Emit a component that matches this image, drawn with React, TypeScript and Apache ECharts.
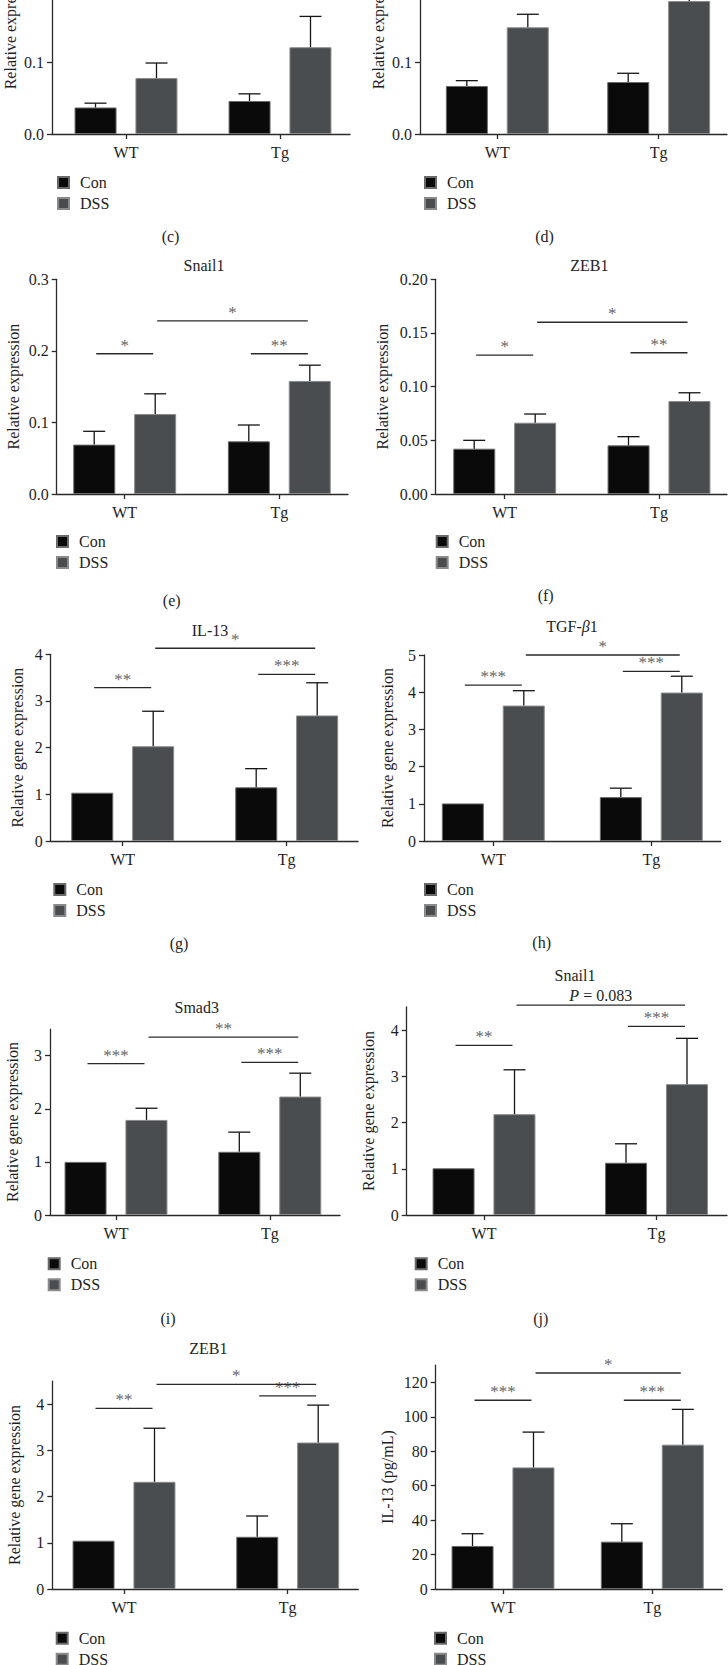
import React, { useEffect, useRef } from "react";
import * as echarts from "echarts";

// ---------- data ----------
const groups = ["WT", "Tg"];
const seriesNames = ["Con", "DSS"];

// (c)
const cCon = [0.037, 0.046];
const cConErr = [0.043, 0.056];
const cDss = [0.078, 0.121];
const cDssErr = [0.099, 0.164];
const cTicks = [0, 0.1, 0.2, 0.3];
const cLabels = [0, 0.1];

// (d)
const dCon = [0.067, 0.0725];
const dConErr = [0.0744, 0.0847];
const dDss = [0.1488, 0.1855];
const dDssErr = [0.167, 0.205];
const dTicks = [0, 0.1, 0.2, 0.3];
const dLabels = [0, 0.1];

// (e) Snail1
const eCon = [0.069, 0.0736];
const eConErr = [0.0876, 0.0964];
const eDss = [0.1117, 0.158];
const eDssErr = [0.14, 0.18];
const eTicks = [0, 0.1, 0.2, 0.3];
const eSigFrom = [0, 2, 1];
const eSigTo = [1, 3, 3];
const eSigY = [0.196, 0.196, 0.242];
const eSigText = ["*", "**", "*"];

// (f) ZEB1
const fCon = [0.0422, 0.0453];
const fConErr = [0.05, 0.0534];
const fDss = [0.0664, 0.0866];
const fDssErr = [0.0745, 0.0943];
const fTicks = [0, 0.05, 0.1, 0.15, 0.2];
const fSigFrom = [0, 2, 1];
const fSigTo = [1, 3, 3];
const fSigY = [0.1294, 0.1316, 0.16];
const fSigText = ["*", "**", "*"];

// (g) IL-13
const gCon = [1.035, 1.15];
const gConErr = [null, 1.55];
const gDss = [2.03, 2.69];
const gDssErr = [2.78, 3.39];
const gTicks = [0, 1, 2, 3, 4];
const gSigFrom = [0, 2, 1];
const gSigTo = [1, 3, 3];
const gSigY = [3.285, 3.57, 4.13];
const gSigText = ["**", "***", "*"];

// (h) TGF-β1
const hCon = [1.01, 1.18];
const hConErr = [null, 1.42];
const hDss = [3.64, 3.99];
const hDssErr = [4.04, 4.43];
const hTicks = [0, 1, 2, 3, 4, 5];
const hSigFrom = [0, 2, 1];
const hSigTo = [1, 3, 3];
const hSigY = [4.19, 4.56, 5.0];
const hSigText = ["***", "***", "*"];

// (i) Smad3
const iCon = [1.0, 1.19];
const iConErr = [null, 1.56];
const iDss = [1.79, 2.23];
const iDssErr = [2.01, 2.67];
const iTicks = [0, 1, 2, 3];
const iSigFrom = [0, 2, 1];
const iSigTo = [1, 3, 3];
const iSigY = [2.85, 2.875, 3.35];
const iSigText = ["***", "***", "**"];

// (j) Snail1
const jCon = [1.01, 1.13];
const jConErr = [null, 1.54];
const jDss = [2.18, 2.83];
const jDssErr = [3.14, 3.82];
const jTicks = [0, 1, 2, 3, 4];
const jSigFrom = [0, 2, 1];
const jSigTo = [1, 3, 3];
const jSigY = [3.67, 4.08, 4.54];
const jSigText = ["**", "***", "{i|P} = 0.083"];

// (k) ZEB1
const kCon = [1.045, 1.13];
const kConErr = [null, 1.58];
const kDss = [2.32, 3.17];
const kDssErr = [3.48, 3.98];
const kTicks = [0, 1, 2, 3, 4];
const kSigFrom = [0, 2, 1];
const kSigTo = [1, 3, 3];
const kSigY = [3.91, 4.18, 4.43];
const kSigText = ["**", "***", "*"];

// (l) IL-13 pg/mL
const lCon = [25.0, 27.5];
const lConErr = [32.1, 37.9];
const lDss = [70.6, 83.8];
const lDssErr = [91.1, 104.3];
const lTicks = [0, 20, 40, 60, 80, 100, 120];
const lSigFrom = [0, 2, 1];
const lSigTo = [1, 3, 3];
const lSigY = [109.6, 109.6, 125.4];
const lSigText = ["***", "***", "*"];

// ---------- layout / style ----------
const FONT = '"Liberation Serif", "DejaVu Serif", serif';
const OFF = 100;
const EXTRA = 40;
const W = 728;
const H = 1665;
const BAR_W = 42;
const BAR_OFF = 30.5;
const TEXT = "#1e1e1e";
const AXIS = "#2a2a2a";
const CON_COLOR = "#0a0a0a";
const DSS_COLOR = "#4a4d50";

type Panel = {
  L: number; R: number; t1: number; t2: number; base: number; top: number; max: number;
  ticks: number[]; labels: number[]; dec: number; yName: string; nameGap: number;
  legend: [number, number];
  con: (number | null)[]; conErr: (number | null)[]; dss: number[]; dssErr: (number | null)[];
  sig?: { from: number[]; to: number[]; y: number[]; text: string[] };
};

const panels: Panel[] = [
  { L: 52, R: 350, t1: 126, t2: 280, base: 134, top: -81.1, max: 0.3, ticks: cTicks, labels: cLabels, dec: 1,
    yName: "Relative expression", nameGap: 34, legend: [57, 174.5], con: cCon, conErr: cConErr, dss: cDss, dssErr: cDssErr },
  { L: 420, R: 727, t1: 497.3, t2: 658.7, base: 134, top: -81.1, max: 0.3, ticks: dTicks, labels: dLabels, dec: 1,
    yName: "Relative expression", nameGap: 34, legend: [424, 174.5], con: dCon, conErr: dConErr, dss: dDss, dssErr: dDssErr },
  { L: 56.7, R: 348, t1: 124.7, t2: 279.3, base: 494, top: 279.3, max: 0.3, ticks: eTicks, labels: eTicks, dec: 1,
    yName: "Relative expression", nameGap: 35, legend: [56, 533.5], con: eCon, conErr: eConErr, dss: eDss, dssErr: eDssErr,
    sig: { from: eSigFrom, to: eSigTo, y: eSigY, text: eSigText } },
  { L: 435.7, R: 727, t1: 504.7, t2: 659, base: 494, top: 279.3, max: 0.2, ticks: fTicks, labels: fTicks, dec: 2,
    yName: "Relative expression", nameGap: 45, legend: [435.7, 533.5], con: fCon, conErr: fConErr, dss: fDss, dssErr: fDssErr,
    sig: { from: fSigFrom, to: fSigTo, y: fSigY, text: fSigText } },
  { L: 50.7, R: 358, t1: 122.7, t2: 286.7, base: 841, top: 654.3, max: 4, ticks: gTicks, labels: gTicks, dec: 0,
    yName: "Relative gene expression", nameGap: 25, legend: [53.3, 881.5], con: gCon, conErr: gConErr, dss: gDss, dssErr: gDssErr,
    sig: { from: gSigFrom, to: gSigTo, y: gSigY, text: gSigText } },
  { L: 424, R: 720.7, t1: 493.3, t2: 651.3, base: 841, top: 655, max: 5, ticks: hTicks, labels: hTicks, dec: 0,
    yName: "Relative gene expression", nameGap: 28.5, legend: [424, 881.5], con: hCon, conErr: hConErr, dss: hDss, dssErr: hDssErr,
    sig: { from: hSigFrom, to: hSigTo, y: hSigY, text: hSigText } },
  { L: 50, R: 340, t1: 116, t2: 269.8, base: 1215, top: 1029.1, max: 3.5, ticks: iTicks, labels: iTicks, dec: 0,
    yName: "Relative gene expression", nameGap: 30, legend: [47.7, 1255.8], con: iCon, conErr: iConErr, dss: iDss, dssErr: iDssErr,
    sig: { from: iSigFrom, to: iSigTo, y: iSigY, text: iSigText } },
  { L: 406.7, R: 727, t1: 484, t2: 656.5, base: 1215, top: 1006.9, max: 4.5, ticks: jTicks, labels: jTicks, dec: 0,
    yName: "Relative gene expression", nameGap: 30.7, legend: [414.7, 1255.8], con: jCon, conErr: jConErr, dss: jDss, dssErr: jDssErr,
    sig: { from: jSigFrom, to: jSigTo, y: jSigY, text: jSigText } },
  { L: 52.3, R: 358.3, t1: 124, t2: 287.7, base: 1589, top: 1381.1, max: 4.5, ticks: kTicks, labels: kTicks, dec: 0,
    yName: "Relative gene expression", nameGap: 30, legend: [55.7, 1630.2], con: kCon, conErr: kConErr, dss: kDss, dssErr: kDssErr,
    sig: { from: kSigFrom, to: kSigTo, y: kSigY, text: kSigText } },
  { L: 435.7, R: 722.3, t1: 503, t2: 652.3, base: 1589, top: 1365.1, max: 130, ticks: lTicks, labels: lTicks, dec: 0,
    yName: "IL-13 (pg/mL)", nameGap: 40, legend: [434, 1630.2], con: lCon, conErr: lConErr, dss: lDss, dssErr: lDssErr,
    sig: { from: lSigFrom, to: lSigTo, y: lSigY, text: lSigText } },
];

const titles: { text: string; x: number; y: number }[] = [
  { text: "Snail1", x: 204, y: 265 },
  { text: "ZEB1", x: 589.4, y: 265 },
  { text: "IL-13", x: 210, y: 630.3 },
  { text: "{n|TGF-}{i|β}{n|1}", x: 572, y: 626.7 },
  { text: "Smad3", x: 196.7, y: 1007.3 },
  { text: "Snail1", x: 575, y: 975 },
  { text: "ZEB1", x: 208.3, y: 1348.3 },
];

const captions: { text: string; x: number; y: number }[] = [
  { text: "(c)", x: 170.5, y: 236 },
  { text: "(d)", x: 544.5, y: 236 },
  { text: "(e)", x: 171.7, y: 600 },
  { text: "(f)", x: 545.7, y: 595 },
  { text: "(g)", x: 179, y: 943 },
  { text: "(h)", x: 541.7, y: 942 },
  { text: "(i)", x: 168, y: 1318 },
  { text: "(j)", x: 540.7, y: 1318 },
];

const richStyles = {
  n: { fontFamily: FONT, fontSize: 16, fill: TEXT, color: TEXT },
  i: { fontFamily: FONT, fontSize: 16, fontStyle: "italic", fill: TEXT, color: TEXT },
};

const catOf = (b: number) => (b < 2 ? 1 : 2);
const sideOf = (b: number) => (b % 2 ? 1 : -1);

function buildOption() {
  const grid: any[] = [];
  const xAxis: any[] = [];
  const yAxis: any[] = [];
  const series: any[] = [];
  const legend: any[] = [];

  panels.forEach((p, gi) => {
    const unit = p.t2 - p.t1;
    const xmin = 1 - (p.t1 - p.L) / unit;
    const xmax = 2 + (p.R - p.t2) / unit;
    grid.push({
      left: p.L,
      top: p.top + OFF,
      width: p.R - p.L,
      height: p.base - p.top,
      containLabel: false,
      outerBoundsMode: "none",
    });
    xAxis.push({
      gridIndex: gi,
      type: "value",
      min: xmin,
      max: xmax,
      axisLine: { show: true, onZero: false, lineStyle: { color: AXIS, width: 1.3 } },
      axisTick: { show: true, customValues: [1, 2], length: 5, lineStyle: { color: AXIS, width: 1.3 } },
      axisLabel: {
        show: true,
        customValues: [1, 2],
        formatter: (v: number) => (Math.abs(v - 1) < 1e-6 ? groups[0] : Math.abs(v - 2) < 1e-6 ? groups[1] : ""),
        margin: 10,
        fontFamily: FONT,
        fontSize: 16,
        color: TEXT,
      },
      splitLine: { show: false },
    });
    yAxis.push({
      gridIndex: gi,
      type: "value",
      min: 0,
      max: p.max,
      axisLine: { show: true, onZero: false, lineStyle: { color: AXIS, width: 1.3 } },
      axisTick: { show: true, customValues: p.ticks, length: 5, lineStyle: { color: AXIS, width: 1.3 } },
      axisLabel: {
        show: true,
        customValues: p.labels,
        formatter: (v: number) => v.toFixed(p.dec),
        margin: 8,
        fontFamily: FONT,
        fontSize: 16,
        color: TEXT,
      },
      splitLine: { show: false },
      name: p.yName,
      nameLocation: "middle",
      nameGap: p.nameGap,
      nameTextStyle: { fontFamily: FONT, fontSize: 16, color: TEXT },
    });

    series.push({
      type: "bar",
      name: seriesNames[0],
      xAxisIndex: gi,
      yAxisIndex: gi,
      barWidth: BAR_W,
      barGap: "45%",
      data: [[1, p.con[0]], [2, p.con[1]]],
      itemStyle: { color: CON_COLOR, borderColor: "#6a6a6a", borderWidth: 1 },
    });
    series.push({
      type: "bar",
      name: seriesNames[1],
      xAxisIndex: gi,
      yAxisIndex: gi,
      barWidth: BAR_W,
      barGap: "45%",
      data: [[1, p.dss[0]], [2, p.dss[1]]],
      itemStyle: { color: DSS_COLOR, borderColor: "#8a8a8a", borderWidth: 1 },
    });

    const errData = [
      [1, p.con[0], p.conErr[0] ?? NaN, -1],
      [2, p.con[1], p.conErr[1] ?? NaN, -1],
      [1, p.dss[0], p.dssErr[0] ?? NaN, 1],
      [2, p.dss[1], p.dssErr[1] ?? NaN, 1],
    ];
    series.push({
      type: "custom",
      xAxisIndex: gi,
      yAxisIndex: gi,
      z: 3,
      silent: true,
      data: errData,
      renderItem: (params: any, api: any) => {
        const x = api.value(0);
        const v = api.value(1);
        const e = api.value(2);
        const side = api.value(3);
        if (!(e > v)) return null;
        const p1 = api.coord([x, v]);
        const p2 = api.coord([x, e]);
        const cx = p1[0] + side * BAR_OFF;
        const ls = { stroke: "#151515", lineWidth: 1.3 };
        return {
          type: "group",
          children: [
            { type: "line", shape: { x1: cx, y1: p1[1], x2: cx, y2: p2[1] }, style: ls },
            { type: "line", shape: { x1: cx - 11, y1: p2[1], x2: cx + 11, y2: p2[1] }, style: ls },
          ],
        };
      },
    });

    if (p.sig) {
      const sg = p.sig;
      const sigData = sg.y.map((yv, k) => [catOf(sg.from[k]), catOf(sg.to[k]), yv, sideOf(sg.from[k]), sideOf(sg.to[k])]);
      series.push({
        type: "custom",
        xAxisIndex: gi,
        yAxisIndex: gi,
        z: 4,
        silent: true,
        data: sigData,
        renderItem: (params: any, api: any) => {
          const k = params.dataIndex;
          const a = api.coord([api.value(0), api.value(2)]);
          const b = api.coord([api.value(1), api.value(2)]);
          const xa = a[0] + api.value(3) * BAR_OFF + 2;
          const xb = b[0] + api.value(4) * BAR_OFF - 2;
          const label = sg.text[k];
          const isStar = label.indexOf("*") >= 0;
          return {
            type: "group",
            children: [
              { type: "line", shape: { x1: xa, y1: a[1], x2: xb, y2: a[1] }, style: { stroke: "#2a2a2a", lineWidth: 1.3 } },
              {
                type: "text",
                x: (xa + xb) / 2,
                y: a[1] - (isStar ? 0 : 2),
                style: {
                  text: label,
                  fill: isStar ? "#666" : TEXT,
                  fontFamily: FONT,
                  fontSize: isStar ? 17 : 16,
                  align: "center",
                  verticalAlign: "bottom",
                  textAlign: "center",
                  textVerticalAlign: "bottom",
                  rich: richStyles,
                },
              },
            ],
          };
        },
      });
    }

    legend.push({
      data: seriesNames,
      orient: "vertical",
      left: p.legend[0],
      top: p.legend[1] + OFF,
      height: 60,
      itemWidth: 11,
      itemHeight: 11,
      itemGap: 5,
      padding: 0,
      icon: "rect",
      selectedMode: false,
      textStyle: { fontFamily: FONT, fontSize: 16, color: TEXT, lineHeight: 16, padding: [0, 0, 0, 6] },
    });
  });

  const elements: any[] = [];
  titles.forEach((t) => {
    elements.push({
      type: "text",
      x: t.x,
      y: t.y + OFF,
      style: {
        text: t.text,
        fill: TEXT,
        fontFamily: FONT,
        fontSize: 16,
        textAlign: "center",
        textVerticalAlign: "middle",
        align: "center",
        verticalAlign: "middle",
        rich: richStyles,
      },
    });
  });
  captions.forEach((t) => {
    elements.push({
      type: "text",
      x: t.x,
      y: t.y + OFF,
      style: {
        text: t.text,
        fill: TEXT,
        fontFamily: FONT,
        fontSize: 16,
        textAlign: "center",
        textVerticalAlign: "middle",
        align: "center",
        verticalAlign: "middle",
      },
    });
  });

  return {
    animation: false,
    backgroundColor: "#ffffff",
    textStyle: { fontFamily: FONT },
    grid,
    xAxis,
    yAxis,
    legend,
    series,
    graphic: { elements },
  };
}

export default function App() {
  const ref = useRef<HTMLDivElement>(null);
  useEffect(() => {
    if (!ref.current) return;
    const chart = echarts.init(ref.current, null, { renderer: "svg" });
    chart.setOption(buildOption() as any);
    return () => chart.dispose();
  }, []);
  return (
    <div
      style={{
        position: "absolute",
        left: 0,
        top: 0,
        width: W,
        height: H,
        overflow: "hidden",
        background: "#fff",
      }}
    >
      <div
        ref={ref}
        style={{ position: "absolute", left: 0, top: -OFF, width: W, height: H + OFF + EXTRA }}
      />
    </div>
  );
}
